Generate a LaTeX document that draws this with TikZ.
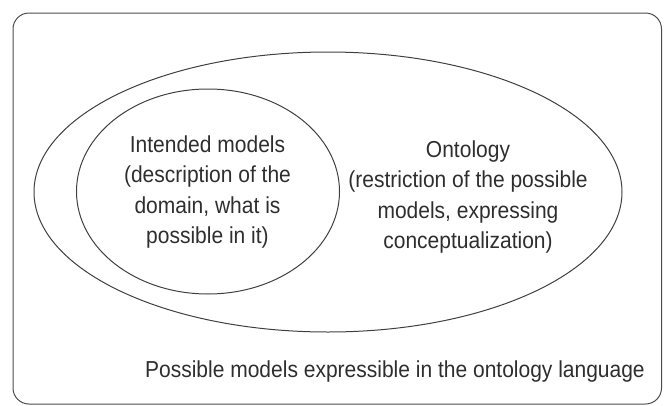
\documentclass[tikz,border=0pt]{standalone}
\usepackage{graphicx}
\usepackage{fontspec}
\setmainfont{Liberation Sans}
\usetikzlibrary{shapes.geometric}
\newcommand{\talltext}[1]{\scalebox{1}[1.1]{\begin{tabular}{@{}c@{}}#1\end{tabular}}}
\begin{document}
\begin{tikzpicture}[x=1pt,y=-1pt,
  frame/.style={draw=black!70, line width=1pt, rounded corners=16pt},
  set/.style={draw=black!75, line width=1pt, ellipse, inner sep=0pt},
  lbl/.style={text=black!82, font=\fontsize{21}{27.3}\selectfont, align=center, inner sep=0pt}]
\useasboundingbox (0,0) rectangle (665,405);
\draw[frame] (13,13) rectangle (661.5,404);
\node[set, minimum width=588pt, minimum height=280pt] (onto) at (328,192) {};
\node[set, minimum width=263pt, minimum height=205pt] (intended) at (208,191.5) {};
\node[lbl] (tint) at (207.5,192) {\talltext{Intended models\\(description of the\\domain, what is\\possible in it)}};
\node[lbl] (tonto) at (468,197) {\talltext{Ontology\\(restriction of the possible\\models, expressing\\conceptualization)}};
\node[lbl, anchor=base east] (tposs) at (645,377) {\scalebox{1}[1.1]{Possible models expressible in the ontology language}};
\end{tikzpicture}
\end{document}
